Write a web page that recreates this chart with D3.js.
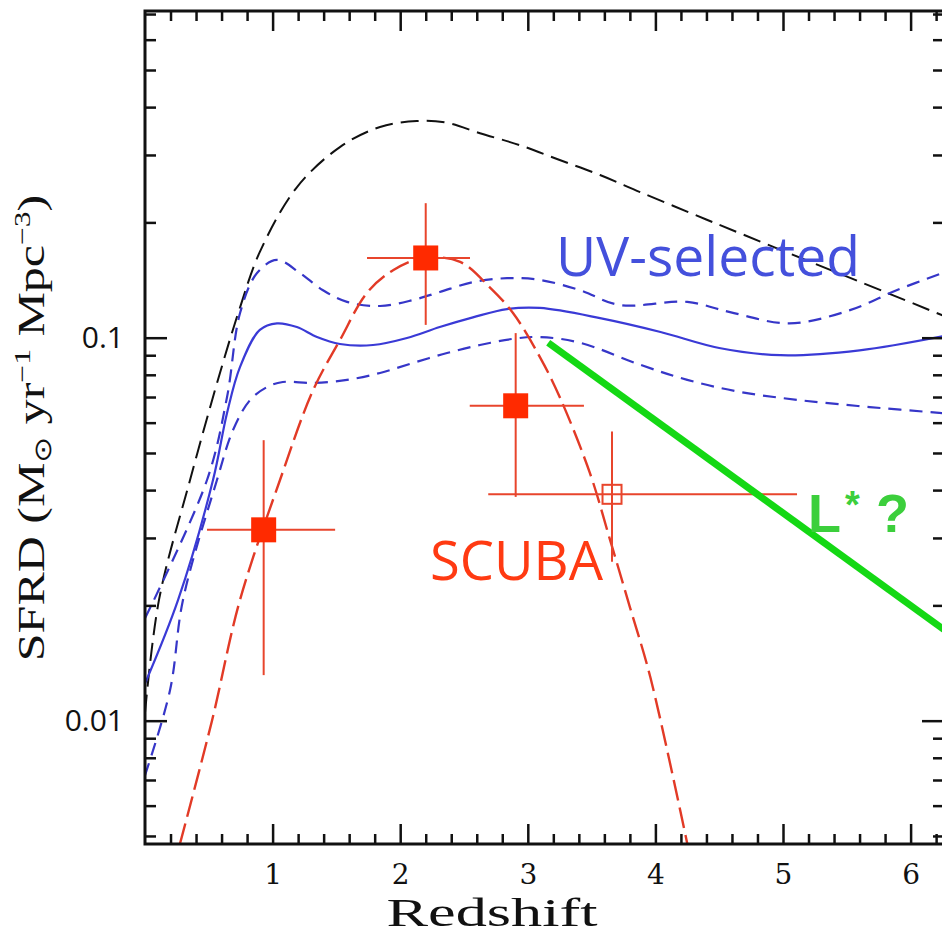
<!DOCTYPE html>
<html>
<head>
<meta charset="utf-8">
<script src="https://cdn.jsdelivr.net/npm/d3@7"></script>
<style>
  body { margin: 0; background: #fff; }
  text { font-family: "DejaVu Serif", serif; }
</style>
</head>
<body>
<svg id="chart" width="942" height="933"></svg>
<script>
// ---- data ----
// [redshift, SFRD]
const totalModel = [[0, 0.0105], [0.11, 0.0207], [0.353, 0.0425], [0.588, 0.081],
  [0.745, 0.12], [0.9, 0.1675], [1.19, 0.247], [1.53, 0.315], [1.842, 0.355], [2.13, 0.368],
  [2.367, 0.364], [2.625, 0.342], [2.94, 0.318], [3.25, 0.291], [3.566, 0.266], [3.88, 0.240],
  [4.27, 0.212], [4.66, 0.1875], [5.19, 0.159], [5.815, 0.131], [6.26, 0.114]];

const uvMid = [[0, 0.0125], [0.26, 0.0207], [0.533, 0.0425], [0.643, 0.0636], [0.745, 0.0839],
  [0.9, 0.1048], [1.034, 0.109], [1.19, 0.1066], [1.348, 0.1004], [1.528, 0.0963], [1.787, 0.0957],
  [2.053, 0.0998], [2.31, 0.1066], [2.57, 0.113], [2.837, 0.1188], [3.095, 0.1196], [3.566, 0.1125],
  [4.04, 0.1035], [4.5, 0.094], [4.98, 0.090], [5.6, 0.0927], [6.26, 0.101]];

const uvHigh = [[0, 0.0185], [0.486, 0.0425], [0.643, 0.070], [0.745, 0.116], [0.878, 0.1475],
  [1.034, 0.1596], [1.215, 0.1475], [1.395, 0.133], [1.583, 0.124], [1.842, 0.121], [2.1, 0.1254],
  [2.31, 0.1316], [2.57, 0.1397], [2.837, 0.143], [3.095, 0.1415], [3.41, 0.133], [3.72, 0.1217],
  [4.25, 0.124], [4.585, 0.1166], [5.05, 0.109], [5.525, 0.118], [5.89, 0.133], [6.26, 0.148]];

const uvLow = [[0, 0.0072], [0.196, 0.012], [0.298, 0.0207], [0.564, 0.0425], [0.69, 0.0574],
  [0.823, 0.0687], [0.956, 0.0743], [1.08, 0.0766], [1.317, 0.0762], [1.583, 0.0776], [1.842, 0.0809],
  [2.1, 0.0859], [2.367, 0.0912], [2.625, 0.0957], [2.884, 0.0993], [3.095, 0.1004], [3.41, 0.097],
  [3.88, 0.085], [4.25, 0.0776], [4.66, 0.0722], [5.13, 0.0687], [5.68, 0.0659], [6.26, 0.0635]];

const scubaModel = [[0.274, 0.00477], [0.525, 0.01], [0.745, 0.0207], [1.058, 0.0425], [1.317, 0.0729],
  [1.528, 0.0986], [1.74, 0.131], [1.944, 0.150], [2.18, 0.1615], [2.47, 0.1577], [2.70, 0.1356],
  [2.884, 0.116], [3.095, 0.089], [3.25, 0.070], [3.487, 0.0443], [3.644, 0.0297], [3.80, 0.0198],
  [3.96, 0.013], [4.25, 0.00477]];

const lstarLine = [[3.16, 0.097], [6.26, 0.0173]];

// SCUBA points
const scubaZ = [0.93, 2.2, 2.905, 3.66];
const scubaS = [0.0315, 0.1615, 0.0664, 0.039];
const scubaZErr = [[0.486, 1.49], [1.74, 2.547], [2.545, 3.44], [2.69, 5.11]];
const scubaSErr = [[0.01315, 0.054], [0.108, 0.2245], [0.0384, 0.1028], [0.026, 0.0569]];
const scubaFilled = [true, true, true, false];

const xMajor = [1, 2, 3, 4, 5, 6];
const xMinor = d3.range(0.2, 6.3, 0.2).filter(v => Math.abs(v - Math.round(v)) > 0.01);
const yMajor = [0.01, 0.1];
const yMinor = [0.005, 0.006, 0.007, 0.008, 0.009, 0.02, 0.03, 0.04, 0.05, 0.06, 0.07, 0.08, 0.09,
  0.2, 0.3, 0.4, 0.5, 0.6, 0.7];

// ---- layout ----
const L = 145, R = 944, T = 11, B = 844;

const svg = d3.select('#chart');

const x = d3.scaleLinear().domain([0, (R - L) / 127.6]).range([L, R]);
const y = d3.scaleLog().domain([0.004764, 0.7129]).range([B, T]);

svg.append('clipPath').attr('id', 'plotClip')
  .append('rect').attr('x', L).attr('y', T).attr('width', R - L).attr('height', B - T);

const plot = svg.append('g').attr('clip-path', 'url(#plotClip)');

const line = d3.line()
  .x(d => x(d[0]))
  .y(d => y(d[1]))
  .curve(d3.curveCatmullRom.alpha(0.5));

// Models
plot.append('path').datum(totalModel)
  .attr('d', line).attr('fill', 'none')
  .attr('stroke', '#111').attr('stroke-width', 2).attr('stroke-dasharray', '18,8');

plot.append('path').datum(uvHigh)
  .attr('d', line).attr('fill', 'none')
  .attr('stroke', '#3636c8').attr('stroke-width', 2.2).attr('stroke-dasharray', '13,8');

plot.append('path').datum(uvLow)
  .attr('d', line).attr('fill', 'none')
  .attr('stroke', '#3636c8').attr('stroke-width', 2.2).attr('stroke-dasharray', '13,8');

plot.append('path').datum(uvMid)
  .attr('d', line).attr('fill', 'none')
  .attr('stroke', '#3a3ad6').attr('stroke-width', 2.2);

plot.append('path').datum(scubaModel)
  .attr('d', line).attr('fill', 'none')
  .attr('stroke', '#e23a26').attr('stroke-width', 2.4).attr('stroke-dasharray', '21,7');

// Error bars and squares
const red = '#ff2a00';
scubaZ.forEach((z, i) => {
  const g = plot.append('g');
  g.append('line')
    .attr('x1', x(scubaZErr[i][0])).attr('x2', x(scubaZErr[i][1]))
    .attr('y1', y(scubaS[i])).attr('y2', y(scubaS[i]))
    .attr('stroke', '#e8452c').attr('stroke-width', 2);
  g.append('line')
    .attr('x1', x(z)).attr('x2', x(z))
    .attr('y1', y(scubaSErr[i][0])).attr('y2', y(scubaSErr[i][1]))
    .attr('stroke', '#e8452c').attr('stroke-width', 2);
  const s = scubaFilled[i] ? 25 : 19;
  g.append('rect')
    .attr('x', x(z) - s / 2).attr('y', y(scubaS[i]) - s / 2)
    .attr('width', s).attr('height', s)
    .attr('fill', scubaFilled[i] ? red : 'none')
    .attr('stroke', scubaFilled[i] ? 'none' : '#e8452c')
    .attr('stroke-width', 2);
});

// L* line
plot.append('path').datum(lstarLine)
  .attr('d', d3.line().x(d => x(d[0])).y(d => y(d[1])))
  .attr('stroke', '#14d814').attr('stroke-width', 7).attr('fill', 'none');

// ---- axes ----
function styleAxis(g) {
  g.select('.domain').remove();
  g.selectAll('.tick line').attr('stroke', '#111').attr('stroke-width', 2.5);
}

svg.append('g').attr('transform', `translate(0,${B})`)
  .call(d3.axisBottom(x).tickValues(xMinor).tickSize(-10).tickFormat(''))
  .call(styleAxis);
svg.append('g').attr('transform', `translate(0,${B})`)
  .call(d3.axisBottom(x).tickValues(xMajor).tickSize(-20).tickPadding(20).tickFormat(d3.format('d')))
  .call(styleAxis)
  .call(g => g.selectAll('text').attr('font-size', 28).attr('fill', '#111')
    .style('font-family', '"DejaVu Serif", serif'));

svg.append('g').attr('transform', `translate(0,${T})`)
  .call(d3.axisTop(x).tickValues(xMinor).tickSize(-10).tickFormat(''))
  .call(styleAxis);
svg.append('g').attr('transform', `translate(0,${T})`)
  .call(d3.axisTop(x).tickValues(xMajor).tickSize(-20).tickFormat(''))
  .call(styleAxis);

svg.append('g').attr('transform', `translate(${L},0)`)
  .call(d3.axisLeft(y).tickValues(yMinor).tickSize(-11).tickFormat(''))
  .call(styleAxis);
svg.append('g').attr('transform', `translate(${L},0)`)
  .call(d3.axisLeft(y).tickValues(yMajor).tickSize(-22).tickPadding(21).tickFormat(d => d))
  .call(styleAxis)
  .call(g => g.selectAll('text').attr('font-size', 30).attr('fill', '#111')
    .style('font-family', '"Open Sans", sans-serif'));

svg.append('g').attr('transform', `translate(${R},0)`)
  .call(d3.axisRight(y).tickValues(yMinor).tickSize(-11).tickFormat(''))
  .call(styleAxis);
svg.append('g').attr('transform', `translate(${R},0)`)
  .call(d3.axisRight(y).tickValues(yMajor).tickSize(-22).tickFormat(''))
  .call(styleAxis);

svg.append('rect')
  .attr('x', L).attr('y', T).attr('width', R - L).attr('height', B - T)
  .attr('fill', 'none').attr('stroke', '#111').attr('stroke-width', 3);

// ---- titles ----
svg.append('text')
  .attr('x', 492).attr('y', 926)
  .attr('text-anchor', 'middle')
  .attr('font-size', 39).attr('fill', '#111')
  .style('font-family', '"Liberation Serif", serif')
  .attr('textLength', 211).attr('lengthAdjust', 'spacingAndGlyphs')
  .text('Redshift');

const yTitle = svg.append('text')
  .attr('text-anchor', 'middle')
  .attr('font-size', 38).attr('fill', '#111')
  .style('font-family', '"Liberation Serif", serif');
yTitle.append('tspan').text('SFRD (M');
yTitle.append('tspan').attr('font-size', 24).attr('dy', 7).text('\u2299');
yTitle.append('tspan').attr('dy', -7).text(' yr');
yTitle.append('tspan').attr('font-size', 24).attr('dy', -14).text('\u22121');
yTitle.append('tspan').attr('dy', 14).text(' Mpc');
yTitle.append('tspan').attr('font-size', 24).attr('dy', -14).text('\u22123');
yTitle.append('tspan').attr('dy', 14).text(')');
const tl = yTitle.node().getComputedTextLength();
yTitle.attr('transform', `translate(44,428) rotate(-90) scale(${467 / tl},1)`);

// ---- annotations ----
svg.append('text')
  .attr('x', 556).attr('y', 276)
  .attr('font-size', 54).attr('fill', '#4450dc')
  .style('font-family', '"Open Sans", sans-serif')
  .attr('textLength', 304).attr('lengthAdjust', 'spacingAndGlyphs')
  .text('UV-selected');

svg.append('text')
  .attr('x', 430).attr('y', 580)
  .attr('font-size', 55).attr('fill', '#ff3a12')
  .style('font-family', '"Open Sans", sans-serif')
  .attr('textLength', 173).attr('lengthAdjust', 'spacingAndGlyphs')
  .text('SCUBA');

const ls = svg.append('text')
  .attr('y', 532)
  .attr('fill', '#3ccf3c').attr('font-weight', 'bold')
  .style('font-family', '"Liberation Sans", Arial, sans-serif');
ls.append('tspan').attr('x', 808).attr('font-size', 54).text('L');
ls.append('tspan').attr('x', 845).attr('dy', -14).attr('font-size', 38).text('*');
ls.append('tspan').attr('x', 876).attr('dy', 14).attr('font-size', 54).text('?');
</script>
</body>
</html>
